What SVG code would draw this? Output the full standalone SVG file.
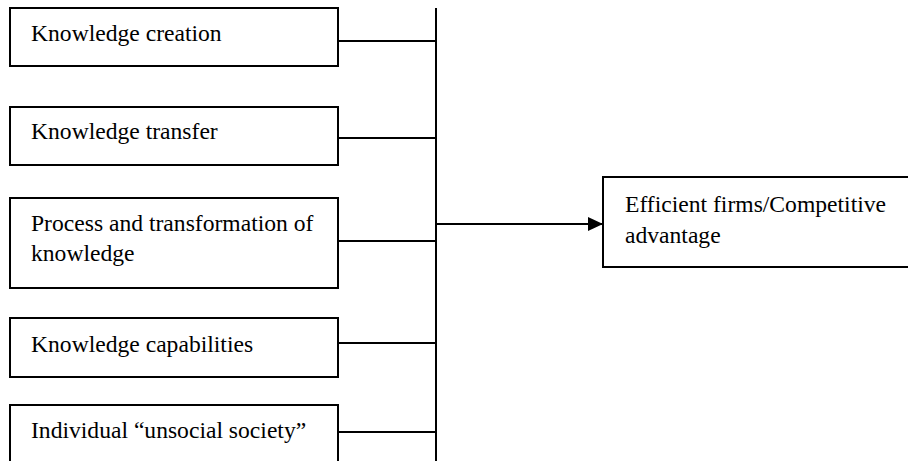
<svg xmlns="http://www.w3.org/2000/svg" width="908" height="461" viewBox="0 0 908 461">
  <style>
    .box { fill: #fff; stroke: #000; stroke-width: 2; }
    .lbl { font-family: "Liberation Serif", "Times New Roman", Times, serif; font-size: 23.6px; fill: #000; }
    .wire { stroke: #000; stroke-width: 2; fill: none; }
  </style>
  <defs>
    <marker id="arrow" markerUnits="userSpaceOnUse" markerWidth="15" markerHeight="14" refX="15" refY="7" orient="auto">
      <path d="M0,0 L15,7 L0,14 Z" fill="#000"/>
    </marker>
  </defs>
  <rect width="908" height="461" fill="#fff"/>

  <!-- bus line joining the five factors, and the arrow to the outcome -->
  <g id="connectors">
    <line class="wire" x1="436" y1="8" x2="436" y2="461"/>
    <line class="wire" x1="338" y1="41" x2="436" y2="41"/>
    <line class="wire" x1="338" y1="138" x2="436" y2="138"/>
    <line class="wire" x1="338" y1="241" x2="436" y2="241"/>
    <line class="wire" x1="338" y1="343" x2="436" y2="343"/>
    <line class="wire" x1="338" y1="432" x2="436" y2="432"/>
    <line class="wire" x1="436" y1="224" x2="603" y2="224" marker-end="url(#arrow)"/>
  </g>

  <g id="knowledge-creation">
    <rect class="box" x="10" y="8" width="328" height="58"/>
    <text class="lbl" x="31" y="41">Knowledge creation</text>
  </g>
  <g id="knowledge-transfer">
    <rect class="box" x="10" y="107" width="328" height="58"/>
    <text class="lbl" x="31" y="139">Knowledge transfer</text>
  </g>
  <g id="process-transformation">
    <rect class="box" x="10" y="198" width="328" height="90"/>
    <text class="lbl" x="31" y="231">Process and transformation of</text>
    <text class="lbl" x="31" y="261">knowledge</text>
  </g>
  <g id="knowledge-capabilities">
    <rect class="box" x="10" y="318" width="328" height="59"/>
    <text class="lbl" x="31" y="352">Knowledge capabilities</text>
  </g>
  <g id="unsocial-society">
    <rect class="box" x="10" y="405" width="328" height="70"/>
    <text class="lbl" x="31" y="438">Individual “unsocial society”</text>
  </g>
  <g id="competitive-advantage">
    <rect class="box" x="603" y="177" width="330" height="90"/>
    <text class="lbl" x="625" y="212">Efficient firms/Competitive</text>
    <text class="lbl" x="625" y="243">advantage</text>
  </g>
</svg>
